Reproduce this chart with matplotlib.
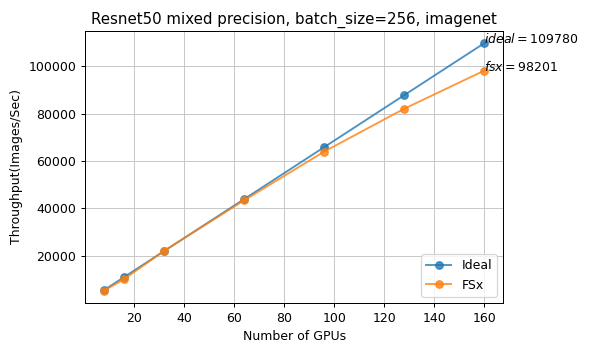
import matplotlib
matplotlib.use('Agg')
import matplotlib.pyplot as plt

gpus = [8, 16, 32, 64, 96, 128, 160]
ideal = [5489, 10978, 21956, 43912, 65868, 87824, 109780]
fsx = [5300, 10100, 22100, 43400, 64000, 82100, 98201]

fig, ax = plt.subplots(figsize=(599 / 90, 351 / 90), dpi=90)
ax.plot(gpus, ideal, marker='o', label='Ideal', alpha=0.8)
ax.plot(gpus, fsx, marker='o', label='FSx', alpha=0.8)

ax.text(gpus[-1], ideal[-1], '$ideal=%d$' % ideal[-1])
ax.text(gpus[-1], fsx[-1], '$fsx=%d$' % fsx[-1])

ax.set_title('Resnet50 mixed precision, batch_size=256, imagenet')
ax.set_xlabel('Number of GPUs')
ax.set_ylabel('Throughput(Images/Sec)')
ax.grid(True, color='#c8c8c8')
ax.legend(loc='lower right')

fig.subplots_adjust(left=0.142, right=0.84, top=0.912, bottom=0.137)
plt.savefig('out.png', dpi=90)
